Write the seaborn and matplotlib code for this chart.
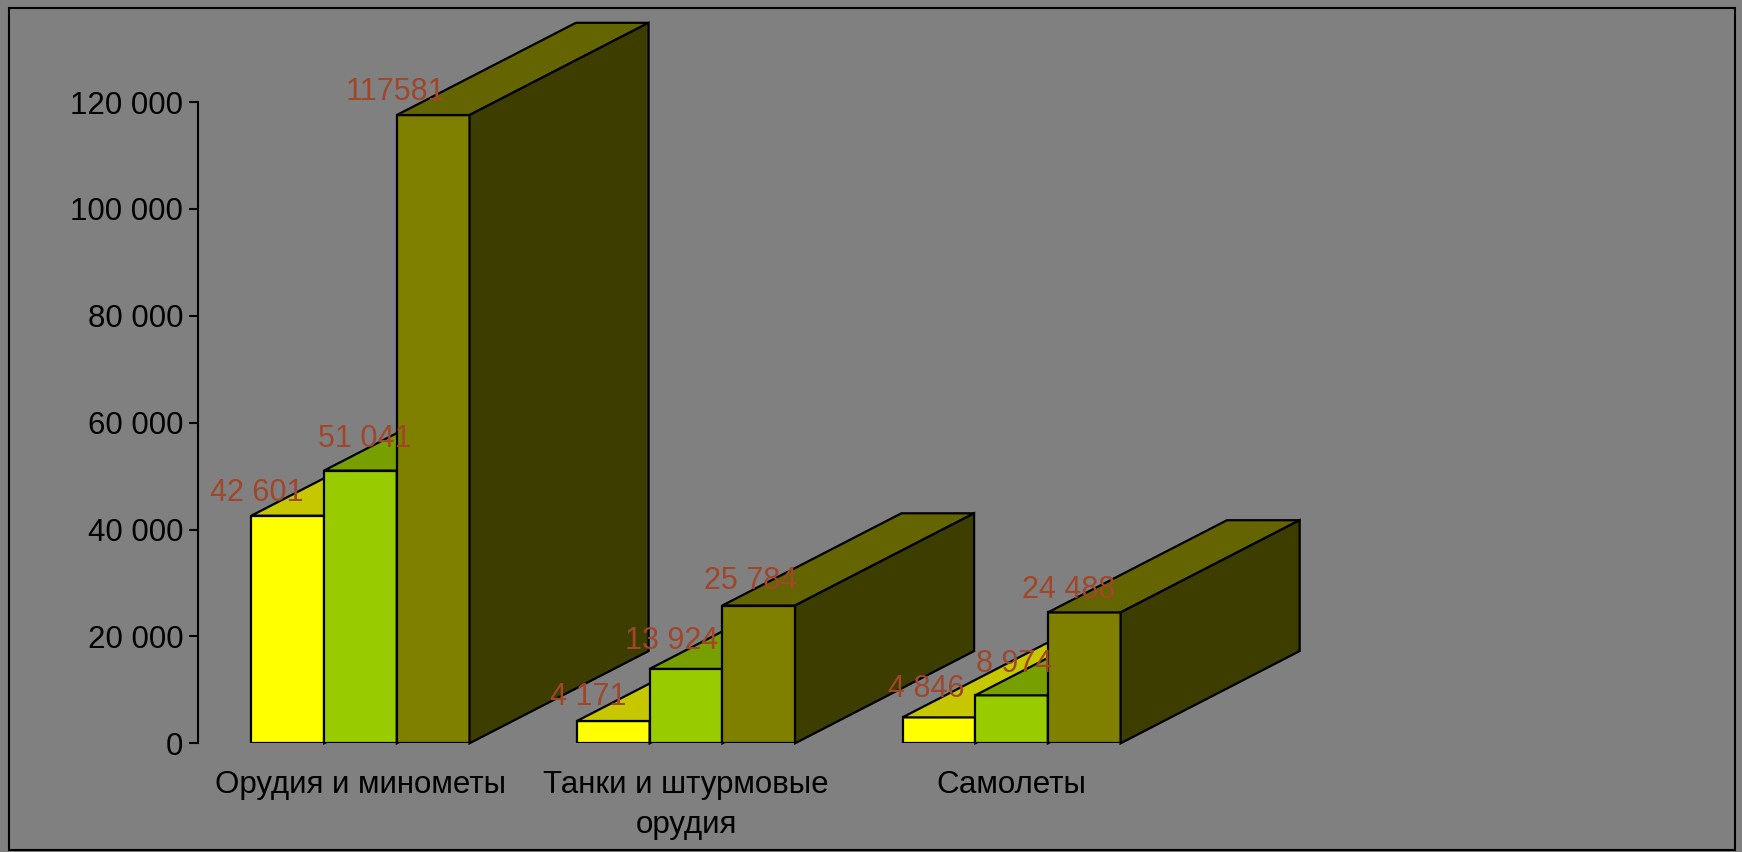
import numpy as np
import pandas as pd
import matplotlib
matplotlib.use("Agg")
import matplotlib.pyplot as plt
import matplotlib.colors as mcolors
from matplotlib.patches import Polygon, Rectangle
import seaborn as sns

# data
categories = ["Орудия и минометы", "Танки и штурмовые\nорудия", "Самолеты"]
series = ["Ряд 1", "Ряд 2", "Ряд 3"]
vals_1 = [42601, 4171, 4846]
vals_2 = [51041, 13924, 8974]
vals_3 = [117581, 25784, 24488]
labels_1 = ["42 601", "4 171", "4 846"]
labels_2 = ["51 041", "13 924", "8 974"]
labels_3 = ["117581", "25 784", "24 488"]
colors = ["#FFFF00", "#99CC00", "#808000"]
yticks = [0, 20000, 40000, 60000, 80000, 100000, 120000]
ytick_labels = ["0", "20 000", "40 000", "60 000", "80 000", "100 000", "120 000"]

df = pd.DataFrame({
    "cat": categories * 3,
    "series": np.repeat(series, 3),
    "val": vals_1 + vals_2 + vals_3,
    "label": labels_1 + labels_2 + labels_3,
})

sns.set_theme(style="white")
plt.rcParams["font.family"] = ["Liberation Sans", "DejaVu Sans"]

BG = "#808080"
fig = plt.figure(figsize=(17.42, 8.52), dpi=100, facecolor=BG)
ax = fig.add_axes([0.1135, 0.1276, 0.7475, 0.8466])
ax.set_facecolor(BG)

sns.barplot(data=df, x="cat", y="val", hue="series", order=categories,
            hue_order=series, palette=colors, width=0.67, saturation=1,
            edgecolor="black", linewidth=1.6, legend=False, ax=ax)

# fake 3d depth (in data units)
dx = 0.55
dy = 17262

# label offsets in points, per series / per category (the way excel scattered them)
label_dx = [[-22.4, -18.4, -8.8], [3.2, -10.4, 1.6], [-27.2, -5.6, -11.2]]
label_dy = [[16, 17.6, 20.8], [22.4, 20, 22.4], [16.8, 17.6, 16]]

for j, cont in enumerate(ax.containers):
    base = mcolors.to_rgb(colors[j])
    top_c = tuple(c * 0.78 for c in base)
    side_c = tuple(c * 0.48 for c in base)
    for i, rect in enumerate(cont):
        k = i * 3 + j
        x0, w, h = rect.get_x(), rect.get_width(), rect.get_height()
        rect.set_zorder(10 + 3 * k)
        top = Polygon([(x0, h), (x0 + w, h), (x0 + w + dx, h + dy), (x0 + dx, h + dy)],
                      closed=True, facecolor=top_c, edgecolor="black", lw=1.6,
                      zorder=11 + 3 * k, clip_on=False)
        side = Polygon([(x0 + w, 0), (x0 + w, h), (x0 + w + dx, h + dy), (x0 + w + dx, dy)],
                       closed=True, facecolor=side_c, edgecolor="black", lw=1.6,
                       zorder=12 + 3 * k, clip_on=False)
        ax.add_patch(top)
        ax.add_patch(side)
        lab = df[(df["series"] == series[j]) & (df["cat"] == categories[i])]["label"].iloc[0]
        ax.annotate(lab, xy=(x0 + w / 2, h), xytext=(label_dx[j][i], label_dy[j][i]),
                    textcoords="offset points", ha="center", va="center",
                    color="#A0462A", fontsize=22, zorder=100)

ax.set_xlim(-0.5, 3.5)
ax.set_ylim(0, 135000)
ax.set_yticks(yticks)
ax.set_yticklabels(ytick_labels)
ax.set_xlabel("")
ax.set_ylabel("")

for s in ["top", "right", "bottom"]:
    ax.spines[s].set_visible(False)
ax.spines["left"].set_color("black")
ax.spines["left"].set_linewidth(1.5)
ax.spines["left"].set_bounds(0, 120000)

ax.tick_params(axis="y", left=True, direction="out", length=6.5, width=1.5,
               color="black", pad=4, labelsize=22.5, labelcolor="black")
ax.tick_params(axis="x", bottom=False, length=0, pad=19.5, labelsize=22.5,
               labelcolor="black")
for t in ax.get_xticklabels():
    t.set_linespacing(1.4)

# outer frame
fig.add_artist(Rectangle((9 / 1742, 2 / 852), 1726 / 1742, 842 / 852,
                         transform=fig.transFigure, fill=False,
                         edgecolor="black", lw=1.5))

fig.savefig("out.png", dpi=100, facecolor=BG)
